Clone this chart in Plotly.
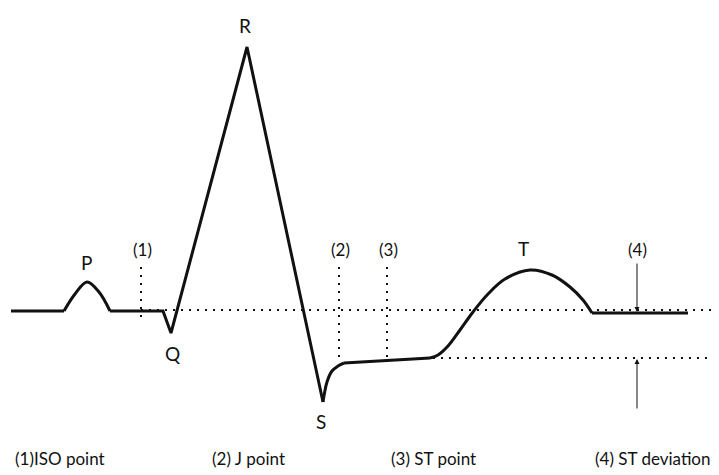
import plotly.graph_objects as go

# ---- waveform data (pixel-like units: x right, y down) ----
base_x = [11, 64]
base_y = [311, 311]
p_x = [64, 75, 87, 99, 110]
p_y = [311, 294, 282, 292, 311]
qrs_x = [110, 163, 171, 247, 323]
qrs_y = [311, 311, 333, 47, 402]
s_x = [323, 327, 332, 338, 344]
s_y = [402, 382, 371, 366, 363]
st_x = [344, 430]
st_y = [363, 358]
t_x = [430, 438, 448, 460, 473, 488, 505, 530, 552, 570, 583, 592]
t_y = [358, 355, 346, 330, 312, 294, 279, 270, 275, 287, 300, 313]
end_x = [592, 688]
end_y = [313, 313]

# reference levels / markers
iso_level = 310
st_level = 358
marker_x = [141, 339, 387]
marker_top = [267, 267, 267]
marker_bottom = [323, 360, 357]
marker_labels = ["(1)", "(2)", "(3)"]

wave_labels = ["P", "Q", "R", "S", "T"]
wave_label_x = [86, 172, 245, 321, 523]
wave_label_y = [262, 353, 25, 421, 248]

legend_labels = ["(1)ISO point", "(2) J point", "(3) ST point", "(4) ST deviation"]
legend_x = [60, 248, 433, 653]

dev_x = 637
dev_label = "(4)"

fig = go.Figure()
line = dict(color="#111111", width=3)
for xs, ys, shape in [(base_x, base_y, "linear"), (p_x, p_y, "spline"),
                      (qrs_x, qrs_y, "linear"), (s_x, s_y, "spline"),
                      (st_x, st_y, "linear"), (t_x, t_y, "spline"),
                      (end_x, end_y, "linear")]:
    fig.add_trace(go.Scatter(x=xs, y=ys, mode="lines", line=dict(line, shape=shape),
                             hoverinfo="skip", showlegend=False))

dot = dict(color="#111111", width=2, dash="2px,6px")
fig.add_trace(go.Scatter(x=[marker_x[0], 719], y=[iso_level, iso_level], mode="lines",
                         line=dot, showlegend=False, hoverinfo="skip"))
fig.add_trace(go.Scatter(x=[433, 719], y=[st_level, st_level], mode="lines",
                         line=dot, showlegend=False, hoverinfo="skip"))
for mx, t0, t1 in zip(marker_x, marker_top, marker_bottom):
    fig.add_trace(go.Scatter(x=[mx, mx], y=[t0, t1], mode="lines",
                             line=dot, showlegend=False, hoverinfo="skip"))

fam = "Lato, Open Sans, sans-serif"
font_big = dict(family=fam, size=19, color="#111111")
font_mid = dict(family=fam, size=17, color="#111111")
font_small = dict(family=fam, size=17, color="#111111")

for t, x, y in zip(wave_labels, wave_label_x, wave_label_y):
    fig.add_annotation(x=x, y=y, text=t, showarrow=False, font=font_big,
                       xanchor="center", yanchor="middle")
for t, x in zip(marker_labels, marker_x):
    fig.add_annotation(x=x + 1, y=249, text=t, showarrow=False, font=font_mid,
                       xanchor="center", yanchor="middle")
fig.add_annotation(x=dev_x, y=249, text=dev_label, showarrow=False, font=font_mid,
                   xanchor="center", yanchor="middle")
for t, x in zip(legend_labels, legend_x):
    fig.add_annotation(x=x, y=458, text=t, showarrow=False, font=font_small,
                       xanchor="center", yanchor="middle")

# ST deviation arrows
fig.add_annotation(x=dev_x, y=312, ax=dev_x, ay=262, xref="x", yref="y",
                   axref="x", ayref="y", text="", showarrow=True,
                   arrowhead=2, arrowsize=1, arrowwidth=1, arrowcolor="#111111")
fig.add_annotation(x=dev_x, y=359, ax=dev_x, ay=410, xref="x", yref="y",
                   axref="x", ayref="y", text="", showarrow=True,
                   arrowhead=2, arrowsize=1, arrowwidth=1, arrowcolor="#111111")

# page body has an 8px margin: size and ranges chosen so data units == window pixels
fig.update_layout(width=711, height=467, margin=dict(l=0, r=0, t=0, b=0),
                  paper_bgcolor="white", plot_bgcolor="white",
                  xaxis=dict(range=[8, 719], visible=False),
                  yaxis=dict(range=[475, 8], visible=False))
fig.write_html("out.html")
